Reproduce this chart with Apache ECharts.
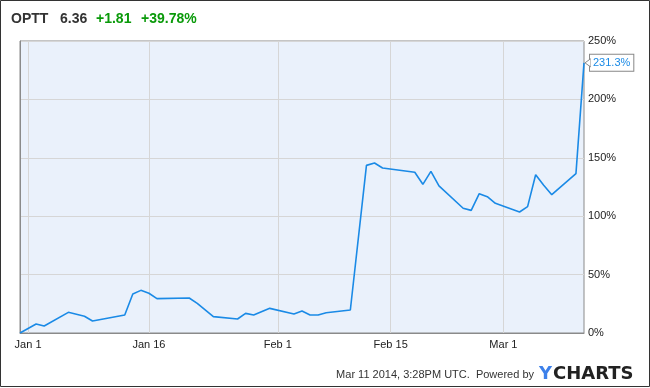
<!DOCTYPE html>
<html><head><meta charset="utf-8">
<script src="https://cdn.jsdelivr.net/npm/echarts@6/dist/echarts.min.js"></script>
<style>html,body{margin:0;padding:0;background:#fff}#c{width:650px;height:388px}</style>
</head><body><div id="c"></div>
<script>
const dates = ['2013-12-31','2014-01-02','2014-01-03','2014-01-06','2014-01-08','2014-01-09','2014-01-13','2014-01-14','2014-01-15','2014-01-16','2014-01-17','2014-01-21','2014-01-22','2014-01-24','2014-01-27','2014-01-28','2014-01-29','2014-01-31','2014-02-03','2014-02-04','2014-02-05','2014-02-06','2014-02-07','2014-02-10','2014-02-12','2014-02-13','2014-02-14','2014-02-18','2014-02-19','2014-02-20','2014-02-21','2014-02-24','2014-02-25','2014-02-26','2014-02-27','2014-02-28','2014-03-03','2014-03-04','2014-03-05','2014-03-06','2014-03-07','2014-03-10','2014-03-11'];
const changePct = [0,7.7,6,17.7,14.3,10.3,15.4,33.4,36.5,34,29.4,30,25.4,14,12,16.8,15.4,21.1,16.3,18.8,15.4,15.4,17.4,19.7,143.5,145.5,141.3,137.6,127.3,138.4,125.9,106.8,105,119.3,116.7,111,103.6,108.2,135.5,126.5,118.4,136.4,231.3];
const xTickDates = ['2014-01-01','2014-01-16','2014-02-01','2014-02-15','2014-03-01'];
const xTickLabels = ['Jan 1','Jan 16','Feb 1','Feb 15','Mar 1'];
const yTicks = [0,50,100,150,200,250];
const ticker = 'OPTT', price = '6.36', chg = '+1.81', chgPct = '+39.78%';
const footer = 'Mar 11 2014, 3:28PM UTC.  Powered by';

const DAY = 86400000;
const day = s => Math.round((Date.parse(s + 'T00:00:00Z') - Date.parse('2013-12-31T00:00:00Z')) / DAY);
const tickDays = xTickDates.map(day);
const chart = echarts.init(document.getElementById('c'));
const lastX = day(dates[dates.length-1]), lastY = changePct[changePct.length-1];
chart.setOption({
  animation:false,
  textStyle:{fontFamily:'Liberation Sans, Arial, sans-serif'},
  grid:{left:20,right:66,top:41,bottom:55,show:true,backgroundColor:'#eaf1fb',borderColor:'#8a8a8a',borderWidth:1},
  xAxis:{type:'value',min:day(dates[0]),max:lastX,
    axisLine:{show:true,lineStyle:{color:'#8a8a8a'}},
    axisTick:{show:false,customValues:tickDays},
    splitLine:{show:true,lineStyle:{color:'#d6d6d6',width:1}},
    axisLabel:{customValues:tickDays,color:'#222',fontSize:11,margin:6,
      formatter:v=>{const i=tickDays.indexOf(v);return i>=0?xTickLabels[i]:'';}}},
  yAxis:{type:'value',position:'right',min:yTicks[0],max:yTicks[yTicks.length-1],interval:50,
    axisLine:{show:true,lineStyle:{color:'#8a8a8a'}},axisTick:{show:false},
    splitLine:{lineStyle:{color:'#d6d6d6',width:1}},
    axisLabel:{color:'#222',fontSize:11,margin:4,formatter:'{value}%'}},
  series:[{type:'line',symbol:'none',data:dates.map((d,i)=>[day(d),changePct[i]]),
    lineStyle:{color:'#1a8ae6',width:1.6},
    endLabel:{show:true,formatter:p=>p.value[1].toFixed(1)+'%',color:'#1a8ae6',fontSize:11,
      backgroundColor:'#fff',borderColor:'#888',borderWidth:1,padding:[3,3,2,3],distance:6}}],
  graphic:{elements:[
    {id:'frame',type:'rect',shape:{x:0.5,y:0.5,width:649,height:386},style:{fill:'none',stroke:'#333',lineWidth:1}},
    {id:'t1',type:'text',left:11,top:12,style:{text:ticker,fontSize:14,fontWeight:'bold',fill:'#333'}},
    {id:'t2',type:'text',left:60,top:12,style:{text:price,fontSize:14,fontWeight:'bold',fill:'#333'}},
    {id:'t3',type:'text',left:96,top:12,style:{text:chg,fontSize:14,fontWeight:'bold',fill:'#0a9a0a'}},
    {id:'t4',type:'text',left:141,top:12,style:{text:chgPct,fontSize:14,fontWeight:'bold',fill:'#0a9a0a'}},
    {id:'f1',type:'text',right:116,top:369,style:{text:footer,fontSize:11,fill:'#333'}},
    {id:'y1',type:'text',left:539,top:365,style:{text:'Y',fontSize:18,fontWeight:'bold',fontFamily:'DejaVu Sans',fill:'#3d80ea'}},
    {id:'y2',type:'text',left:553,top:365,style:{text:'CHARTS',fontSize:18,fontWeight:'bold',fontFamily:'DejaVu Sans',fill:'#222'}}
  ]}
});
try {
  const p = chart.convertToPixel({gridIndex:0},[lastX,lastY]);
  chart.setOption({graphic:{elements:[
    {id:'arrow',type:'polygon',z:200,shape:{points:[[p[0]+6.5,p[1]-4],[p[0]+1,p[1]],[p[0]+6.5,p[1]+4]]},style:{fill:'#fff',stroke:'#888',lineWidth:1}},
    {id:'arrowcover',type:'rect',z:201,shape:{x:p[0]+6.5,y:p[1]-3.5,width:1.5,height:7},style:{fill:'#fff'}}]}});
} catch(e) { console.error(e); }
</script></body></html>
